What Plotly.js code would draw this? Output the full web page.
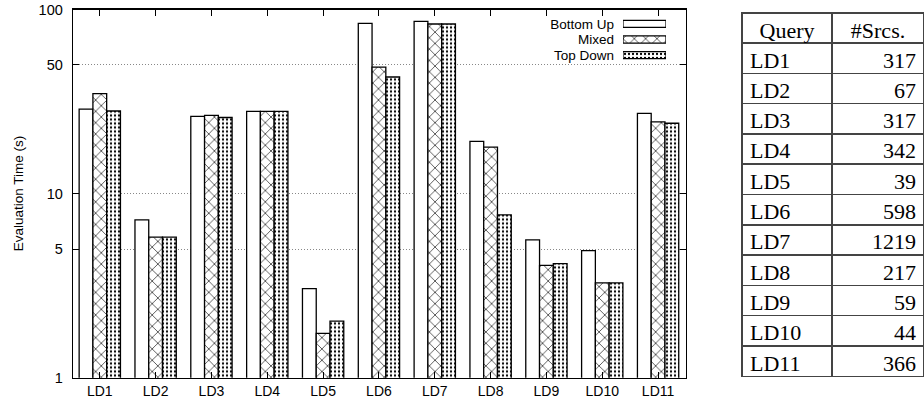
<!DOCTYPE html>
<html>
<head>
<meta charset="utf-8">
<script src="https://cdn.plot.ly/plotly-3.0.1.min.js"></script>
<style>
html,body{margin:0;padding:0;background:#fff;}
#chart{width:924px;height:404px;}
</style>
</head>
<body>
<div id="chart"></div>
<script>
// ---- data ----
const categories = ["LD1","LD2","LD3","LD4","LD5","LD6","LD7","LD8","LD9","LD10","LD11"];
const seriesNames = ["Bottom Up","Mixed","Top Down"];
const bottomUp = [28.8, 7.2, 26.3, 28.0, 3.05, 84.0, 86.3, 19.2, 5.6, 4.9, 27.3];
const mixed    = [34.9, 5.8, 26.6, 28.0, 1.74, 48.7, 83.4, 17.9, 4.08, 3.27, 24.5];
const topDown  = [28.1, 5.8, 25.9, 28.0, 2.03, 43.0, 83.4, 7.67, 4.17, 3.27, 24.1];
const yTicks = [1, 5, 10, 50, 100];
const tableHeader = ["Query", "#Srcs."];
const srcs = [317, 67, 317, 342, 39, 598, 1219, 217, 59, 44, 366];

// ---- styles ----
const W = 924, H = 404;
const sans = "Liberation Sans, Arial, sans-serif";
const serif = "Liberation Serif, Times New Roman, serif";
const patterns = [
  {shape: "", size: 6, solidity: 0.3},
  {shape: "x", size: 8, solidity: 0.15},
  {shape: ".", size: 4, solidity: 0.25}
];
const seriesData = [bottomUp, mixed, topDown];

const traces = seriesData.map((vals, i) => ({
  type: "bar",
  name: seriesNames[i],
  x: categories,
  y: vals,
  xaxis: "x", yaxis: "y",
  marker: {
    color: "white",
    line: {color: "black", width: 1.3},
    pattern: Object.assign({fgcolor: "black", bgcolor: "white", fillmode: "replace"}, patterns[i])
  },
  showlegend: false,
  hoverinfo: "skip"
}));

// legend swatches drawn as a tiny horizontal bar chart
traces.push({
  type: "bar",
  orientation: "h",
  x: seriesNames.map(() => 1),
  y: seriesNames,
  xaxis: "x2", yaxis: "y2",
  width: 0.45,
  marker: {
    color: "white",
    line: {color: "black", width: 1.2},
    pattern: {
      shape: patterns.map(p => p.shape),
      size: patterns.map(p => p.size),
      solidity: patterns.map(p => p.solidity),
      fgcolor: "black", bgcolor: "white", fillmode: "replace"
    }
  },
  showlegend: false,
  hoverinfo: "skip"
});

// table
traces.push({
  type: "table",
  domain: {x: [742/W, 1], y: [1 - 377/H, 1 - 13/H]},
  columnwidth: [90, 92],
  header: {
    values: tableHeader,
    align: "center",
    height: 30,
    font: {family: serif, size: 22, color: "black"},
    line: {color: "#444", width: 1.5},
    fill: {color: "white"}
  },
  cells: {
    values: [categories, srcs],
    align: ["left", "right"],
    height: 30.3,
    font: {family: serif, size: 22, color: "black"},
    line: {color: "#444", width: 1.5},
    fill: {color: "white"}
  }
});

const layout = {
  width: W, height: H,
  margin: {l: 0, r: 0, t: 0, b: 0},
  paper_bgcolor: "white",
  plot_bgcolor: "white",
  showlegend: false,
  barmode: "group",
  bargap: 0.26,
  bargroupgap: 0,
  font: {family: sans, size: 14, color: "black"},
  xaxis: {
    domain: [73/W, 686/W],
    type: "category",
    range: [-0.48, 10.5],
    showline: true, linecolor: "black", linewidth: 1.3,
    mirror: "ticks",
    ticks: "inside", ticklen: 6, tickcolor: "black",
    showgrid: false, zeroline: false,
    tickfont: {family: sans, size: 14, color: "black"},
    automargin: false
  },
  yaxis: {
    domain: [1 - 377.7/H, 1 - 9.5/H],
    type: "log",
    range: [0, 2],
    tickvals: yTicks,
    ticktext: yTicks.map(String),
    showline: true, linecolor: "black", linewidth: 1.3,
    mirror: "ticks",
    ticks: "inside", ticklen: 6, tickcolor: "black",
    showgrid: true, gridcolor: "#888", griddash: "1px,2px", gridwidth: 1,
    zeroline: false,
    tickfont: {family: sans, size: 14.5, color: "black"},
    ticklabelstandoff: 6,
    title: {text: "Evaluation Time (s)", font: {family: sans, size: 13.5, color: "black"}, standoff: 12},
    automargin: false
  },
  xaxis2: {
    domain: [623/W, 666/W],
    anchor: "y2",
    range: [0, 1],
    visible: false,
    fixedrange: true
  },
  yaxis2: {
    domain: [1 - 63/H, 1 - 16/H],
    anchor: "x2",
    type: "category",
    categoryorder: "array",
    categoryarray: seriesNames.slice().reverse(),
    tickmode: "array",
    tickvals: seriesNames,
    ticktext: seriesNames,
    showline: false, showgrid: false, zeroline: false,
    ticks: "",
    ticklabelstandoff: 8,
    tickfont: {family: sans, size: 13.5, color: "black"},
    fixedrange: true,
    automargin: false
  }
};

Plotly.newPlot("chart", traces, layout, {staticPlot: true, displayModeBar: false});
</script>
</body>
</html>
